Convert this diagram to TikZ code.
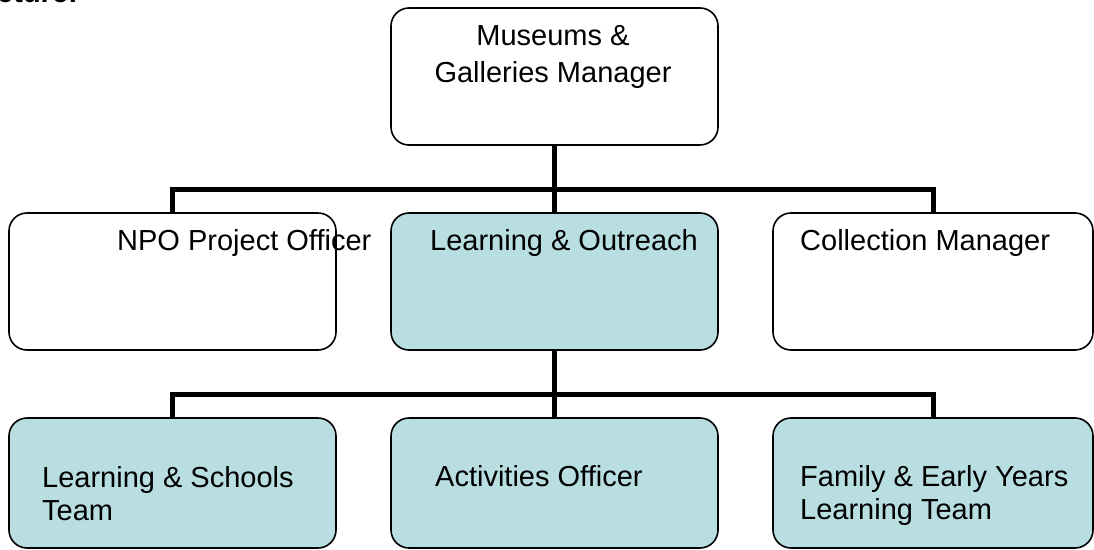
\documentclass[tikz,border=0pt]{standalone}
\usepackage{fontspec}
\setmainfont{Liberation Sans}
\begin{document}
\begin{tikzpicture}[x=1pt, y=-1pt,
  post/.style={draw=black, line width=1.6pt, rounded corners=18pt, minimum width=327pt, minimum height=137pt, inner sep=0pt},
  team/.style={post, fill=col, minimum height=130pt},
  lbl/.style={anchor=base west, inner sep=0pt, align=left, font=\fontsize{29}{33}\selectfont},
  link/.style={line width=5pt}]
\definecolor{col}{HTML}{B8DEE1}
\useasboundingbox (0,0) rectangle (1094,549);
\node[anchor=base east, inner sep=0pt, font=\bfseries\fontsize{29}{33}\selectfont] (head) at (78,2.5) {Structure:};
\node[post] (mgr) at (554.5,76.5) {};
\node[post] (npo) at (172.5,281.5) {};
\node[post, fill=col] (lo) at (554.5,281.5) {};
\node[post, minimum width=320pt] (col) at (933,281.5) {};
\node[team] (ls) at (172.5,483) {};
\node[team] (act) at (554.5,483) {};
\node[team, minimum width=320pt] (fam) at (933,483) {};
\coordinate (j1) at (554.5,189.5);
\coordinate (j2) at (554.5,394);
\draw[link] (mgr.south) -- (lo.north);
\draw[link] (npo.north) |- (j1) -| (col.north);
\draw[link] (lo.south) -- (act.north);
\draw[link] (ls.north) |- (j2) -| (fam.north);
\node[lbl, anchor=base, align=center, font=\fontsize{29}{37}\selectfont] (mgrt) at (553,82) {Museums \&\\Galleries Manager};
\node[lbl] (npot) at (117,250) {NPO Project Officer};
\node[lbl] (lot) at (430,250) {Learning \& Outreach};
\node[lbl] (colt) at (800,250) {Collection Manager};
\node[lbl] (lst) at (42,520) {Learning \& Schools\\Team};
\node[lbl] (actt) at (435,486) {Activities Officer};
\node[lbl] (famt) at (800,519) {Family \& Early Years\\Learning Team};
\end{tikzpicture}
\end{document}
